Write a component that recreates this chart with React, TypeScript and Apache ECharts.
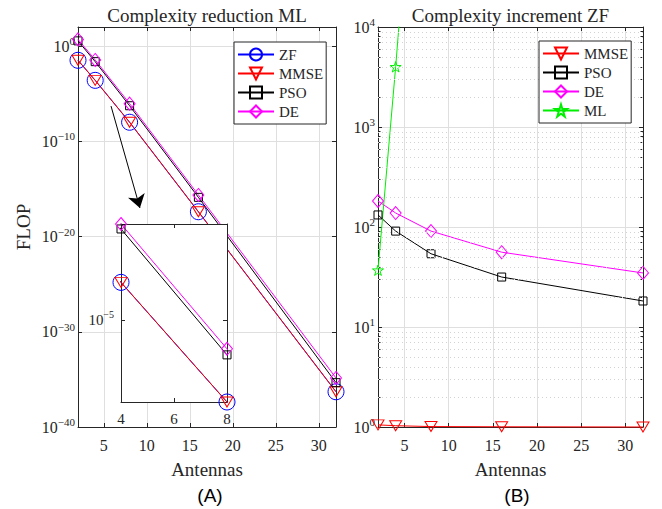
import React, { useEffect, useRef } from 'react';
import * as echarts from 'echarts';

// ---------- data ----------
const antennas = [2, 4, 8, 16, 32];
// Panel A: FLOP ratio relative to ML (log scale)
const zfA = [3.2e-2, 2.5e-4, 1.0e-8, 4.0e-18, 5.0e-37];
const mmseA = [3.2e-2, 2.5e-4, 1.0e-8, 4.0e-18, 5.0e-37];
const psoA = [3.5, 2.3e-2, 5.4e-7, 1.3e-16, 4.5e-36];
const deA = [5.0, 3.5e-2, 9.0e-7, 2.3e-16, 1.4e-35];
// Panel B: complexity increment relative to ZF (log scale)
const mmseB = [1.05, 1.03, 1.01, 1.005, 1.0];
const psoB = [132, 91, 54, 31.6, 18.2];
const deB = [182, 138, 91, 56, 34.7];
const mlB = [37, 4000, 1e8, 2.5e17, 2e36];

// ticks & ranges
const xRange = [2, 32];
const xTicks = [5, 10, 15, 20, 25, 30];
const yRangeA = [1e-40, 1e2];
const yTickExpA = [-40, -30, -20, -10, 0];
const yRangeB = [1, 1e4];
const yTickExpB = [0, 1, 2, 3, 4];
const minorMult = [2, 3, 4, 5, 6, 7, 8, 9];
const insetXRange = [4, 8];
const insetXTicks = [4, 6, 8];
const insetYRange = [1e-8, 3.5e-2];
const insetYTickExp = [-5];
// arrow annotation, in data coordinates of panel A
const arrowFrom = [5.84, 5e-7];
const arrowTo = [9.2, 1e-17];

// ---------- styling ----------
const SERIF = 'Liberation Serif';
const SANS = 'Liberation Sans';
const INK = '#262626';
const GRIDC = '#dfdfdf';
const MINORC = '#d2d2d2';

const gridA = { left: 78, top: 27, width: 258, height: 400 };
const gridB = { left: 378, top: 27, width: 265, height: 400 };
const gridI = { left: 121, top: 224, width: 106, height: 178 };

const STAR = (() => {
  const pts: string[] = [];
  for (let i = 0; i < 10; i++) {
    const r = i % 2 === 0 ? 50 : 19.1;
    const a = -Math.PI / 2 + (i * Math.PI) / 5;
    pts.push(`${(50 + r * Math.cos(a)).toFixed(2)} ${(50 + r * Math.sin(a)).toFixed(2)}`);
  }
  return 'path://M' + pts.join(' L') + ' Z';
})();

const styles: Record<string, any> = {
  ZF: { color: '#0000ff', symbol: 'circle', size: 16, rotate: 0 },
  MMSE: { color: '#ff0000', symbol: 'triangle', size: [12, 10], rotate: 180 },
  PSO: { color: '#000000', symbol: 'rect', size: 8, rotate: 0 },
  DE: { color: '#ff00ff', symbol: 'diamond', size: [11, 13], rotate: 0 },
  ML: { color: '#00ee00', symbol: STAR, size: 11, rotate: 0 },
};

const lg = (v: number) => Math.log10(v);
const pts = (vals: number[]) => antennas.map((x, i) => [x, lg(vals[i])]);

function mk(key: string, name: string, vals: number[], xi: number, yi: number, extra: any = {}) {
  const s = styles[key];
  return {
    type: 'line',
    name,
    xAxisIndex: xi,
    yAxisIndex: yi,
    data: pts(vals),
    symbol: s.symbol,
    symbolSize: s.size,
    symbolRotate: s.rotate,
    symbolKeepAspect: key === 'ML',
    showAllSymbol: true,
    lineStyle: { color: s.color, width: 1 },
    itemStyle: { color: 'rgba(255,255,255,0)', borderColor: s.color, borderWidth: 1 },
    emphasis: { disabled: true },
    animation: false,
    clip: false,
    z: 3,
    ...extra,
  };
}

const supText = (e: number) => `{b|10}{s|${e < 0 ? '\u2212' + Math.abs(e) : String(e)}}`;
const rich = (fs: number, ss: number) => ({
  b: { fontSize: fs, fontFamily: SERIF, color: INK, lineHeight: 21, verticalAlign: 'middle' },
  s: { fontSize: ss, fontFamily: SERIF, color: INK, lineHeight: ss, verticalAlign: 'top' },
});

function xAxis(gridIndex: number, range: number[], ticks: number[], position: string, opts: any = {}) {
  const labels = position === 'bottom' && opts.labels !== false;
  return {
    type: 'value',
    gridIndex,
    min: range[0],
    max: range[1],
    position,
    z: opts.z ?? 0,
    axisLine: { show: true, onZero: false, lineStyle: { color: INK, width: 1 } },
    axisTick: { show: true, inside: true, length: 4, customValues: ticks, lineStyle: { color: INK, width: 1 } },
    axisLabel: {
      show: labels,
      customValues: ticks,
      margin: opts.margin ?? 10,
      color: INK,
      fontFamily: SERIF,
      fontSize: opts.fontSize ?? 16,
    },
    splitLine: { show: !!opts.split, lineStyle: { color: GRIDC, width: 1 } },
    name: opts.name,
    nameLocation: 'middle',
    nameGap: opts.nameGap ?? 33,
    nameTextStyle: { fontFamily: SERIF, fontSize: 19, color: INK },
  };
}

function yAxis(gridIndex: number, range: number[], ticks: number[], position: string, opts: any = {}) {
  return {
    type: 'value',
    gridIndex,
    min: range[0],
    max: range[1],
    position,
    z: opts.z ?? 0,
    axisLine: { show: opts.line !== false, onZero: false, lineStyle: { color: INK, width: 1 } },
    axisTick: { show: true, inside: true, length: opts.tickLen ?? 4, customValues: ticks, lineStyle: { color: INK, width: 1 } },
    axisLabel: {
      show: !!opts.labels,
      customValues: ticks,
      margin: opts.margin ?? 3,
      formatter: (v: number) => supText(Math.round(v)),
      rich: rich(opts.fontSize ?? 16, opts.supSize ?? 11),
    },
    splitLine: { show: !!opts.split, lineStyle: { color: GRIDC, width: 1 } },
    name: opts.name,
    nameLocation: 'middle',
    nameGap: opts.nameGap ?? 45,
    nameTextStyle: { fontFamily: SERIF, fontSize: 19, color: INK },
  };
}

function buildOption() {
  const rangeA = [lg(yRangeA[0]), lg(yRangeA[1])];
  const rangeB = [lg(yRangeB[0]), lg(yRangeB[1])];
  const rangeI = [lg(insetYRange[0]), lg(insetYRange[1])];
  const minorB: number[] = [];
  for (let n = rangeB[0]; n < rangeB[1]; n++) minorMult.forEach((k) => minorB.push(n + lg(k)));

  const legendCommon = {
    orient: 'vertical',
    itemWidth: 36,
    itemHeight: 15,
    itemGap: 4,
    padding: [5, 3, 5, 3],
    backgroundColor: '#ffffff',
    borderColor: INK,
    borderWidth: 1,
    borderRadius: 0,
    textStyle: { fontFamily: SERIF, fontSize: 15, color: INK, lineHeight: 15 },
    selectedMode: false,
    z: 20,
  };

  return {
    animation: false,
    backgroundColor: '#ffffff',
    grid: [
      { ...gridA, containLabel: false },
      { ...gridB, containLabel: false },
      { ...gridI, containLabel: false },
    ],
    xAxis: [
      xAxis(0, xRange, xTicks, 'bottom', { split: true, name: 'Antennas' }),
      xAxis(0, xRange, xTicks, 'top'),
      xAxis(1, xRange, xTicks, 'bottom', { split: true, name: 'Antennas' }),
      xAxis(1, xRange, xTicks, 'top'),
      xAxis(2, insetXRange, insetXTicks, 'bottom', { z: 60, fontSize: 15, margin: 9 }),
      xAxis(2, insetXRange, insetXTicks, 'top', { z: 60 }),
    ],
    yAxis: [
      yAxis(0, rangeA, yTickExpA, 'left', { labels: true, split: true, name: 'FLOP' }),
      yAxis(0, rangeA, yTickExpA, 'right'),
      yAxis(1, rangeB, yTickExpB, 'left', { labels: true, split: true }),
      yAxis(1, rangeB, yTickExpB, 'right'),
      yAxis(1, rangeB, minorB, 'left', { line: false, tickLen: 2.5 }),
      yAxis(1, rangeB, minorB, 'right', { line: false, tickLen: 2.5 }),
      yAxis(2, rangeI, insetYTickExp, 'left', { labels: true, z: 60, fontSize: 15, supSize: 10, margin: 7 }),
      yAxis(2, rangeI, insetYTickExp, 'right', { z: 60 }),
    ],
    legend: [
      { ...legendCommon, left: 234, top: 42, data: ['ZF', 'MMSE', 'PSO', 'DE'] },
      { ...legendCommon, left: 539, top: 41, data: ['MMSE', 'PSO', 'DE', 'ML'] },
    ],
    graphic: [
      {
        type: 'rect',
        z: 50,
        silent: true,
        shape: { x: gridI.left, y: gridI.top, width: gridI.width, height: gridI.height },
        style: { fill: '#ffffff', stroke: 'none' },
      },
      {
        type: 'text', x: gridA.left + gridA.width / 2, y: 15, z: 30,
        style: { text: 'Complexity reduction ML', fontFamily: SERIF, fontSize: 19, fill: INK, textAlign: 'center', textVerticalAlign: 'middle', align: 'center', verticalAlign: 'middle' },
      },
      {
        type: 'text', x: gridB.left + gridB.width / 2, y: 15, z: 30,
        style: { text: 'Complexity increment ZF', fontFamily: SERIF, fontSize: 19, fill: INK, textAlign: 'center', textVerticalAlign: 'middle', align: 'center', verticalAlign: 'middle' },
      },
      {
        type: 'text', x: 210, y: 495, z: 30,
        style: { text: '(A)', fontFamily: SANS, fontSize: 19, fill: '#000000', textAlign: 'center', textVerticalAlign: 'middle', align: 'center', verticalAlign: 'middle' },
      },
      {
        type: 'text', x: 517, y: 495, z: 30,
        style: { text: '(B)', fontFamily: SANS, fontSize: 19, fill: '#000000', textAlign: 'center', textVerticalAlign: 'middle', align: 'center', verticalAlign: 'middle' },
      },
    ],
    series: [
      // panel A
      mk('ZF', 'ZF', zfA, 0, 0),
      mk('MMSE', 'MMSE', mmseA, 0, 0),
      mk('PSO', 'PSO', psoA, 0, 0),
      mk('DE', 'DE', deA, 0, 0),
      {
        type: 'line', name: 'arrow', xAxisIndex: 0, yAxisIndex: 0, data: [], z: 4, silent: true,
        markLine: {
          silent: true, animation: false,
          symbol: ['none', 'arrow'], symbolSize: 13,
          label: { show: false },
          emphasis: { disabled: true },
          lineStyle: { color: '#000000', width: 1, type: 'solid' },
          itemStyle: { color: '#000000' },
          data: [[{ coord: [arrowFrom[0], lg(arrowFrom[1])] }, { coord: [arrowTo[0], lg(arrowTo[1])] }]],
        },
      },
      // panel B minor dotted grid
      {
        type: 'line', name: 'minorGrid', xAxisIndex: 2, yAxisIndex: 2, data: [], z: 1, silent: true,
        markLine: {
          silent: true, animation: false, symbol: ['none', 'none'],
          label: { show: false }, emphasis: { disabled: true },
          lineStyle: { color: MINORC, width: 1, type: [1, 3] },
          data: minorB.map((v) => ({ yAxis: v })),
        },
      },
      mk('MMSE', 'MMSE', mmseB, 2, 2),
      mk('PSO', 'PSO', psoB, 2, 2),
      mk('DE', 'DE', deB, 2, 2),
      mk('ML', 'ML', mlB, 2, 2, { clip: true }),
      // inset
      mk('ZF', 'ZF inset', zfA, 4, 6, { clip: true, z: 60 }),
      mk('MMSE', 'MMSE inset', mmseA, 4, 6, { clip: true, z: 60 }),
      mk('PSO', 'PSO inset', psoA, 4, 6, { clip: true, z: 60 }),
      mk('DE', 'DE inset', deA, 4, 6, { clip: true, z: 60 }),
    ],
  };
}

export default function App() {
  const ref = useRef<HTMLDivElement>(null);
  useEffect(() => {
    if (!ref.current) return;
    const chart = echarts.init(ref.current, undefined, { renderer: 'svg' });
    chart.setOption(buildOption() as any);
    return () => chart.dispose();
  }, []);
  return (
    <div
      ref={ref}
      style={{ position: 'fixed', left: 0, top: 0, width: 662, height: 509, background: '#ffffff' }}
    />
  );
}
